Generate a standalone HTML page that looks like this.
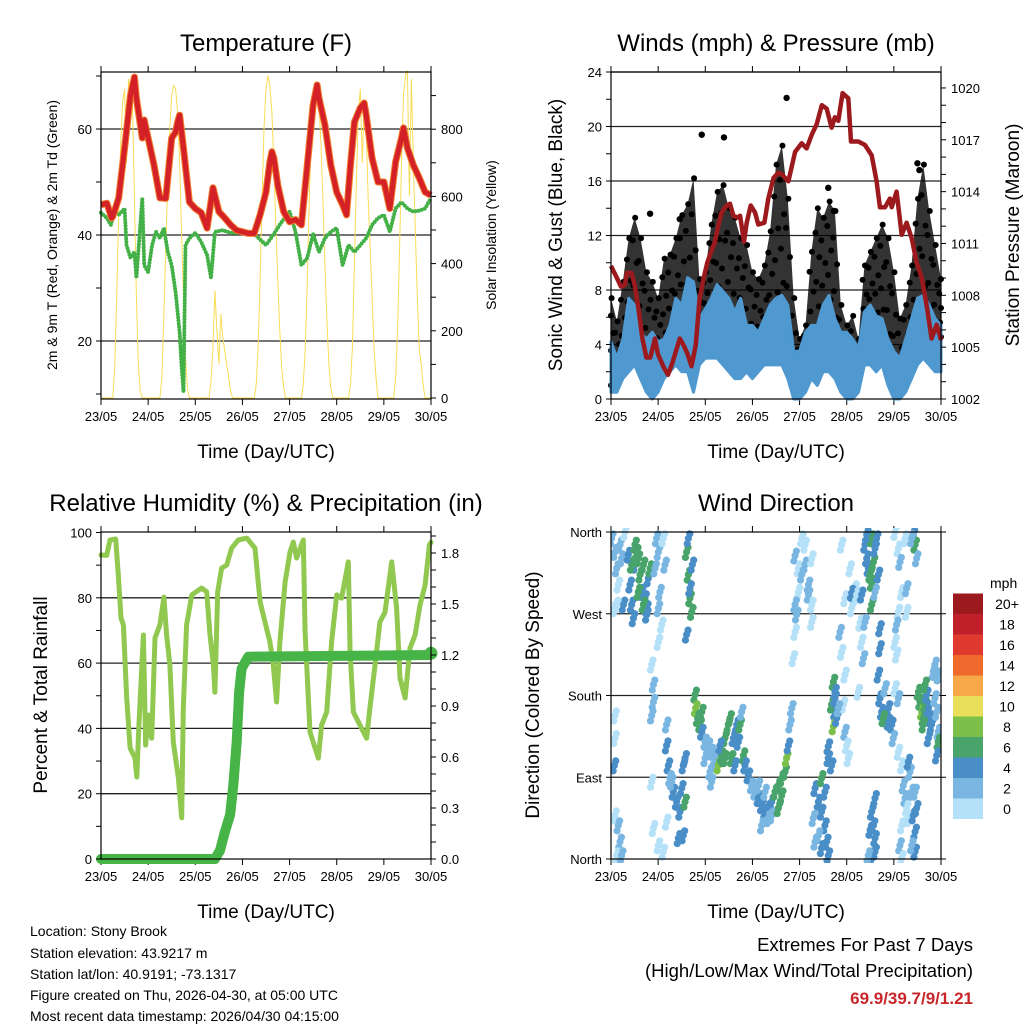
<!DOCTYPE html>
<html><head><meta charset="utf-8"><style>
html,body{margin:0;padding:0;background:#fff;}
svg{display:block;font-family:"Liberation Sans",Arial,sans-serif;}
</style></head><body>
<svg id="s" width="1024" height="1024" viewBox="0 0 1024 1024" xmlns="http://www.w3.org/2000/svg">
<defs><clipPath id="clipDir"><rect x="611" y="528" width="330" height="335"/></clipPath></defs>
<rect x="0" y="0" width="1024" height="1024" fill="#fff"/>
<g id="g1"></g>
<g id="g2"></g>
<g id="g3"></g>
<g id="g4"></g>
<g font-size="14" fill="#000">
<text x="30" y="936">Location: Stony Brook</text>
<text x="30" y="958">Station elevation: 43.9217 m</text>
<text x="30" y="979">Station lat/lon: 40.9191; -73.1317</text>
<text x="30" y="1000">Figure created on Thu, 2026-04-30, at 05:00 UTC</text>
<text x="30" y="1021">Most recent data timestamp: 2026/04/30 04:15:00</text>
</g>
<g text-anchor="end">
<text x="973" y="951" font-size="18.5">Extremes For Past 7 Days</text>
<text x="973" y="977" font-size="18.5">(High/Low/Max Wind/Total Precipitation)</text>
<text x="973" y="1004" font-size="17" font-weight="bold" fill="#c8262a">69.9/39.7/9/1.21</text>
</g>
</svg>
<script>
// ---------- data ----------
const dayLabels = ["23/05","24/05","25/05","26/05","27/05","28/05","29/05","30/05"];
const tempHours = [0,3,5.4,6,9,12,15,17,18,21,22,24,27,30,33,36,38,39,40,42,45,48,51,54,57,60,63,66,69,72,75,78,81,84,86,87,88,90,93,96,99,102,105,108,110,111,114,117,120,123,125,127,129,132,134,135,138,141,144,147,150,153,154,156,159,162,165,168];
const tempVals = [45.7,46,43.2,43.5,47,56.4,66.4,69.8,65.8,58.3,61.7,58.3,53.2,47,46.9,58.3,59.4,61.3,62.6,56.4,46.2,45,44.2,41.3,48.9,44.4,43.2,41.9,40.9,40.6,40.3,40.3,43.8,48.1,53.8,55.7,54.5,49.4,44.4,42.5,42.9,41.9,53.2,64.5,68.3,65.8,60.8,53.2,48.1,45.7,43.8,53.2,61.3,64,64.9,62.6,54.5,50,50,45,53.8,58.3,60.2,56.4,53.2,50.8,48.1,47.5];
const dewHours = [0,3,5,7,9,12,13,15,17,18,20,21,22,24,26,28,30,32,34,36,38,40,41,42,43,45,48,51,54,56,58,62,66,72,78,84,88,92,96,99,102,105,108,111,114,117,120,123,126,129,132,135,138,141,144,147,150,153,156,159,162,165,168];
const dewVals = [44.2,43.2,41.9,44.4,43.8,45,38.1,35.7,36.8,31.9,41.9,47,34.3,33,38.1,40.6,39.4,41.3,36.8,34.3,29.2,21.7,15.5,10.4,38.1,39.4,40.4,38.7,36.2,31.9,40.6,40.9,40.4,40.4,40.2,38.1,40.2,42.5,44.4,40.6,34.3,35.7,40.2,36.8,39.4,40.6,41.3,34.3,38.1,36.8,38.1,39.4,41.9,43.2,43.8,40.6,45,46.2,45,44.4,44.6,45,47];
const solarHours = [0,6,7,8,9,10,11,12,13,14,15,16,17,18,19,20,21, 30,31,32,33,34,35,36,37,38,39,40,41,42,43,44,45, 55,56,57,58,59,60,61,62,63,64,65,66,67, 78,79,80,81,82,83,84,85,86,87,88,89,90,91,92,93,94, 102,103,104,105,106,107,108,109,110,111,112,113,114,115,116,117,118, 126,127,128,129,130,131,132,133,134,135,136,137,138,139,140,141, 149,150,151,152,153,154,155,156,157,158,159,160,161,162,163,164,165,168];
const solarVals = [0,0,100,300,550,750,880,920,700,950,880,900,600,300,100,20,0, 0,60,250,450,650,800,900,930,920,850,700,500,300,120,30,0, 0,50,150,320,200,100,250,180,140,100,60,20,0, 0,40,150,350,600,800,920,960,930,850,700,520,350,200,90,30,0, 0,40,150,350,580,780,900,940,930,880,750,580,400,230,100,30,0, 0,40,150,400,650,850,920,700,880,800,600,450,300,150,60,0, 0,60,200,450,700,900,960,975,600,950,700,500,300,150,100,40,0,0];

const presHours = [0,3,5.1,7.1,8.1,10.5,12,13.9,16,18,20,22.4,23.9,27,29,31,32.9,35,37,39,41,43.1,45.1,47.2,49,50.9,52.9,55,56.3,58.9,60.6,62.3,64.3,65.7,67.7,69.1,71.1,73.3,75,78.1,80.1,82.8,85.2,86.9,90.3,93.7,97.1,99.6,102.2,104.7,107.3,109.8,112.3,114,115.7,117.9,120.8,122.2,125.9,129.3,132.7,135.2,136.9,139.5,142,142.9,145.4,148,150.5,153.1,155.6,158.2,160.7,163.2,165.8,168];
const presVals = [1009.7,1009.0,1008.5,1008.6,1009.3,1009.3,1008.6,1007.3,1005.5,1004.4,1004.4,1005.5,1004.6,1003.8,1003.4,1004.0,1004.7,1005.5,1005.1,1004.6,1003.9,1005.1,1007.8,1009.0,1009.9,1010.5,1011.1,1012.2,1012.8,1013.2,1013.3,1012.6,1012.5,1012.6,1011.1,1012.2,1013.2,1012.8,1012.1,1012.2,1013.6,1014.8,1015.1,1015.0,1014.6,1016.3,1016.8,1016.5,1017.3,1017.9,1019.0,1018.8,1017.7,1018.3,1018.1,1019.7,1019.4,1016.9,1016.9,1016.7,1016.1,1014.6,1013.1,1013.1,1013.6,1013.1,1014.0,1011.5,1012.2,1011.3,1009.9,1009.0,1007.4,1005.5,1006.3,1005.4];
const windHours = [0,3,6,9,12,15,18,21,24,27,30,33,36,39,42,45,48,51,54,57,60,63,66,69,72,75,78,81,84,87,90,93,96,99,102,105,108,111,114,117,120,123,126,129,132,135,138,141,144,147,150,153,156,159,162,165,168];
const windHi = [4.2,3.0,4.4,7.4,6.9,4.9,4.4,4.9,4.2,4.4,5.4,7.4,6.9,8.9,8.6,5.9,6.6,7.4,8.4,7.9,7.4,6.4,7.4,5.4,5.4,4.9,5.9,6.9,7.4,7.6,6.9,3.5,3.5,4.9,5.4,5.4,6.9,7.6,5.9,4.9,4.9,4.4,3.7,6.4,6.9,6.1,5.9,4.4,3.5,3.0,4.4,5.9,7.4,7.6,6.9,5.9,5.4];
const windLo = [0.5,0.5,1.5,2,2.5,1.5,0.5,0,0.5,1.5,2,2.5,2,2,0.5,2.5,3,3,3,2.5,2,1.5,1.5,2,1.5,2,2.5,2.5,2.5,2.5,1.5,0,0,0.5,1.5,1,2,2,1.5,0.5,0,0,0.5,2.5,2.5,2,2.5,1,0,0,0.5,1.5,2.5,3,2.5,2,2];
const gustHi = [7.4,5.7,8.6,11.8,13.3,11.8,9.3,8.6,7.4,10.3,10.6,11.8,13.5,14.3,16.2,8.8,9.3,12.8,15.2,15.7,14,13.3,11.8,11.3,9.3,8.8,9.8,12.3,17.2,18.6,14.7,7.4,4.4,5.4,10.8,14,13.3,14.5,13.8,6.9,5.4,6.1,4.4,9.8,10.8,11.8,12.8,11.8,9.3,5.9,6.9,9.8,14.7,17.2,13.8,11.3,8.8];
const gustLo = [1,1.5,2,4,5,3.5,2.5,2,2.5,3.5,4,5,5,4.5,3,4.5,5.5,6,6.5,5.5,5,4,4.5,3.5,3,3,3.5,4.5,5.5,6,4,1,0.5,1.5,3.5,5,5,5.5,4,1.5,0.5,0.5,1.5,4.5,5,5,5,3,1.5,0.5,1.5,3.5,5.5,6,5,4,3.5];
const gustExtraHours = [89.4,46.2,57.5,19.9,35,110.6,113.5,156,157];
const gustExtraVals = [22.1,19.4,19.2,13.6,13.2,15.5,13.8,17.3,16.8];

const rhHours = [0,2.9,4.6,7.5,8.8,10.2,11.4,13.1,14.8,17.3,18.2,19.3,21.6,22.7,24.1,25.8,27.5,30,32,33.4,35.1,36.8,39.4,41.1,41.9,43.6,46.2,51.2,53.8,55.5,57.2,58,59.4,61.4,64,66.5,69.9,74.2,78.4,81,83.5,86,87.7,89.4,91.1,93.7,96.2,97.9,99.6,103,103.9,106.4,110.6,112.3,114.9,117.4,120,122.5,125.9,126.8,128.5,131,135.2,136.9,139.5,142,144.6,148,150.5,152.2,154.8,157.3,159.9,162.4,165,167.2,168];
const rhVals = [93.1,93,97.7,98,87,73.8,71.7,49.3,34,30.9,25.1,41,68.6,34.9,44.1,37,67.7,71.7,80.2,68.6,59.4,35.8,24.8,12.6,46.2,71.7,80.9,83,81.8,68.6,59.4,51.1,81.8,89.1,90,95.2,97.7,98.3,95.2,78.7,72.6,66.5,59.4,48.1,66.5,84.8,94,97.1,92.2,97.7,69.5,38.9,30.9,41,45,66.5,80.9,79.9,91,63.4,45,42,37,46.2,59.4,72.6,75.6,91,76.9,55.4,49.3,64.6,68.6,77.8,83.9,96.2,97];
const precipHours = [0,58,60.6,63.1,65.7,67.4,69.1,70.3,71.6,75,167,168];
const precipVals = [0,0,0.05,0.16,0.26,0.44,0.69,0.98,1.12,1.19,1.2,1.21];

const dirHours = [
0.3,2,2.9,3.7,4.6,5.4,6.3,7.1,2.9,1.7,
2,3.7,4.6,2.9,5.4,1.7,2,2,
9.7,10.5,11.4,12.2,13.1,13.9,14.8,15.6,16.5,17.3,18.2,19,19.9,10.5,13.9,16.5,8.8,12.2,18.2,
23.2,24.1,24.9,25.8,26.6,27.5,24.1,24.1,22.4,
38.5,39.4,40.2,41.1,39.4,41.4,38.5,40.2,
20.7,21.6,21.6,20.7,
28.3,28.3,29.2,30,31.7,33.4,35.1,36,36.8,37.7,34.3,36.8,20.7,21.6,24.1,26.6,28.3,30.9,37.7,
42.8,43.1,44.1,45.3,46.2,47.9,49.6,51.2,52.9,47.9,46.2,
50.4,51.2,54.6,56.3,58,59.7,60.6,62.3,64,64.8,65.7,66.5,67.4,68.2,69.9,58,61.4,63.1,55.5,57.2,
71.6,73.3,75,76.7,78.4,80.1,81.8,83.5,85.2,86.9,88.6,89.4,90.3,91.1,92,78.4,81.8,85.2,75,76.7,80.1,86.9,
93.7,95.4,97.1,98.8,100.5,102.2,95.4,93.7,94.5,98.8,100.5,97.1,93.7,92.8,102.2,102.2,
103.9,105.6,107.2,108.9,109.8,110.6,105.6,107.2,103,103.9,108.9,107.2,110.6,112.3,110.6,
113.2,114,113.2,114,112.3,114,113.2,114.9,
116.6,117.4,119.1,118.3,119.1,120,120.8,122.5,123.4,124.2,125.9,126.8,127.6,128.5,129.3,119.1,117.4,121.7,122.5,125.1,125.9,115.7,
129.3,130.2,131,131.9,132.7,133.6,134.4,135.2,130.2,132.7,132.7,136.1,127.6,134.4,
132.7,133.6,134.4,132.7,134.4,131.9,134.4,131,
136.1,136.9,137.8,139.5,141.2,142.9,143.7,141.2,138.6,136.9,136.9,139.5,146.3,144.6,146.3,
146.3,147.1,148,146.3,145.4,144.6,145.4,149.7,150.5,150.5,144.6,
148,148.8,149.7,150.5,151.4,152.2,153.1,153.9,154.8,154.8,153.1,147.1,148,151.4,154.8,155.6,148,
153.9,154.8,155.6,153.1,
156.5,157.3,158.2,159,159.9,160.7,161.6,162.4,163.2,164.9,165.8,166.6,166.6,164.1,164.9,166.6,165.8,159.9,161.6,159];
const dirDegs = [
353,338,320,302,346,331,280,360,280,276,
48,37,19,4,4,103,133,158,
302,280,265,324,338,331,313,294,324,287,276,309,320,324,294,280,335,346,269,
353,338,294,258,353,324,239,276,320,
338,313,287,272,353,324,247,298,
214,192,173,158,
148,125,103,89,74,63,52,78,103,111,23,26,85,34,15,8,41,85,63,
181,166,155,148,140,129,125,118,111,111,162,
96,85,103,114,133,148,155,133,148,129,148,162,114,103,92,111,111,103,125,111,
81,74,67,59,52,56,63,74,81,89,96,111,125,148,166,74,48,56,81,37,45,70,
334,320,313,324,302,331,294,280,269,346,291,353,250,221,280,261,
78,63,52,37,19,4,26,12,45,19,74,89,111,103,124,
195,184,173,162,170,177,146,155,
250,228,203,170,140,125,111,276,294,298,291,260,239,221,261,287,346,320,293,291,184,166,
346,331,320,313,353,327,342,353,357,304,280,313,291,294,
52,37,23,4,8,32,67,4,
203,177,162,158,151,148,133,166,155,232,254,188,118,188,177,
342,327,294,272,258,239,225,353,298,272,360,
103,81,67,56,45,96,74,48,30,8,15,15,37,107,74,56,1,
357,346,331,353,
184,173,162,155,170,181,166,155,148,177,162,140,202,206,214,129,114,192,133,148];
const dirSpds = [
2,2,2,1,2,3,4,1,1,1,
1,2,2,1,2,4,1,1,
4,4,4,5,7,6,7,5,6,5,4,5,7,6,7,7,4,7,4,
2,3,2,1,1,2,1,3,2,
6,7,6,7,4,5,4,5,
1,2,2,2,
3,4,4,3,4,4,5,4,4,4,4,4,1,1,1,1,1,3,7,
6,8,6,7,4,3,3,3,2,2,6,
3,2,8,7,6,6,7,5,5,5,6,3,7,5,4,7,6,5,4,7,
3,3,4,4,4,4,5,6,7,6,7,8,4,2,2,2,3,6,2,2,3,7,
2,1,2,2,2,1,1,3,3,1,2,1,1,1,1,1,
4,4,4,4,4,4,3,4,2,2,5,7,4,4,4,
6,4,5,4,7,4,8,4,
2,1,1,1,2,1,1,1,2,1,1,1,1,2,2,1,1,1,4,1,1,3,
4,4,4,6,6,6,4,4,4,7,6,4,4,3,
4,4,4,4,4,4,4,2,
4,4,4,5,4,4,2,4,6,4,4,2,1,1,2,
1,2,1,1,2,1,1,1,2,1,1,
1,2,2,1,1,3,2,4,4,4,2,2,1,4,3,4,1,
4,7,3,2,
6,7,8,6,6,4,4,4,4,3,3,2,2,2,2,6,4,6,4,7];
const speedColors = ["#b4e0f8","#7ab6e2","#4a8ec8","#48a46a","#7cc04a","#e8e05a","#f8a848","#f06a2d","#e03a2e","#c0202a","#9c1a1e"];
const speedLabels = ["0","2","4","6","8","10","12","14","16","18","20+"];

// ---------- helpers ----------
const NS = "http://www.w3.org/2000/svg";
function mk(parent, tag, attrs, txt){
  const e = document.createElementNS(NS, tag);
  for (const k in attrs) e.setAttribute(k, attrs[k]);
  if (txt !== undefined) e.textContent = txt;
  parent.appendChild(e);
  return e;
}
function pathFrom(xs, ys){ return xs.map((x,i)=>(i?"L":"M")+x.toFixed(1)+" "+ys[i].toFixed(1)).join(""); }

function frame(g, X0, Y0, X1, Y1, title, xlab){
  const t = mk(g,"text",{x:(X0+X1)/2,y:Y0-21,"font-size":24,"text-anchor":"middle"},title);
  
  
  const xl = mk(g,"text",{x:(X0+X1)/2,y:Y1+59,"font-size":19,"text-anchor":"middle"},xlab);
  
  
  for (let d=0; d<=7; d++){
    const x = X0 + d*(X1-X0)/7;
    const tk = mk(g,"line",{x1:x,x2:x,y1:Y1,y2:Y1+6,stroke:"#000","stroke-width":1});
    
    
    mk(g,"line",{x1:x,x2:x,y1:Y0,y2:Y0-6,stroke:"#000","stroke-width":1});
    const lb = mk(g,"text",{x:x,y:Y1+22,"font-size":13,"text-anchor":"middle"},dayLabels[d]);
    
    
  }
}
function border(g,X0,Y0,X1,Y1){
  const b = mk(g,"rect",{x:X0,y:Y0,width:X1-X0,height:Y1-Y0,fill:"none",stroke:"#000","stroke-width":1.2});
  
  
}
function yTicks(g, side, X, vals, yf, labels, len){
  vals.forEach((v,i)=>{
    const y = yf(v);
    const dx = side==="left" ? -len : len;
    mk(g,"line",{x1:X,x2:X+dx,y1:y,y2:y,stroke:"#000","stroke-width":1});
    if (labels && labels[i] !== null){
      const t = mk(g,"text",{x: side==="left"? X-9 : X+10, y:y+5,"font-size":13,"text-anchor": side==="left"?"end":"start"}, labels[i]);
      
      
    }
  });
}
function vlabel(g, x, y, txt, size, name){
  const t = mk(g,"text",{x:x,y:y,"font-size":size,"text-anchor":"middle",transform:`rotate(-90 ${x} ${y})`},txt);
  
  
}
function grid(g, X0, X1, ys){
  ys.forEach(y=>{
    const l = mk(g,"line",{x1:X0,x2:X1,y1:y,y2:y,stroke:"#222","stroke-width":1.3});
    
    
  });
}

// ---------- Panel 1: temperature ----------
(function(){
  const g = document.getElementById("g1");
  const X0=101,X1=431,Y0=72,Y1=399;
  const xs = h => X0 + h*(X1-X0)/168;
  const yT = t => 129 + (60-t)*5.3;
  const yS = w => 398 - w*0.336;
  frame(g,X0,Y0,X1,Y1,"Temperature (F)","Time (Day/UTC)");
  grid(g,X0,X1,[yT(20),yT(40),yT(60)]);
  const sol = mk(g,"path",{d:pathFrom(solarHours.map(xs),solarVals.map(yS)),fill:"none",stroke:"#f9dc56","stroke-width":1});
  
  
  const dew = mk(g,"path",{d:pathFrom(dewHours.map(xs),dewVals.map(yT)),fill:"none",stroke:"#44b048","stroke-width":4,"stroke-dasharray":"0 3.2","stroke-linecap":"round","stroke-linejoin":"round"});
  
  
  const t9 = mk(g,"path",{d:pathFrom(tempHours.map(xs),tempVals.map(yT)),fill:"none",stroke:"#f07a2a","stroke-width":7,"stroke-linejoin":"round"});
  
  
  const t2 = mk(g,"path",{d:pathFrom(tempHours.map(xs),tempVals.map(yT)),fill:"none",stroke:"#d42128","stroke-width":5,"stroke-linejoin":"round"});
  
  
  border(g,X0,Y0,X1,Y1);
  const lv=[],ll=[]; for(let v=10;v<=70;v+=10){lv.push(v); ll.push(v%20===0? String(v):null);}
  yTicks(g,"left",X0,lv,yT,ll,5);
  const rv=[],rl=[]; for(let v=0;v<=900;v+=100){rv.push(v); rl.push(v%200===0? String(v):null);}
  yTicks(g,"right",X1,rv,yS,rl,5);
  vlabel(g,57,235,"2m & 9m T (Red, Orange) & 2m Td (Green)",14,"y-axis-title-left");
  vlabel(g,496,235,"Solar Insolation (Yellow)",14,"y-axis-title-right");
})();

// ---------- Panel 2: winds ----------
(function(){
  const g = document.getElementById("g2");
  const X0=611,X1=941,Y0=72,Y1=399;
  const xs = h => X0 + h*(X1-X0)/168;
  const yW = v => 399 - v*13.625;
  const yP = p => 399 - (p-1002)*17.28;
  frame(g,X0,Y0,X1,Y1,"Winds (mph) & Pressure (mb)","Time (Day/UTC)");
  grid(g,X0,X1,[4,8,12,16,20,24].map(yW));
  const top=windHours.map(xs), hi=gustHi.map(yW), lo=gustLo.map(yW);
  const band = mk(g,"path",{d:pathFrom(top.concat(top.slice().reverse()),hi.concat(lo.slice().reverse()))+"Z",fill:"#000","fill-opacity":0.8,stroke:"none"});
  
  
  const fr = [0,0.2,0.4,0.6,0.8,1];
  const jit = [-1.2,0.8,-0.5,1.1,-0.9,0.3];
  windHours.forEach((h,i)=>{
    fr.forEach((f,k)=>{
      const v = gustLo[i] + f*(gustHi[i]-gustLo[i]);
      const c = mk(g,"circle",{cx:xs(Math.min(168,Math.max(0,h+jit[k]))),cy:yW(v),r:3,fill:"#000"});
      
      
    });
  });
  gustExtraHours.forEach((h,i)=>{
    const c = mk(g,"circle",{cx:xs(h),cy:yW(gustExtraVals[i]),r:3.2,fill:"#000"});
    
    
  });
  const wb = mk(g,"path",{d:pathFrom(top.concat(top.slice().reverse()),windHi.map(yW).concat(windLo.map(yW).reverse()))+"Z",fill:"#4f98d0",stroke:"#4f98d0","stroke-width":3,"stroke-linejoin":"round"});
  
  
  const pl = mk(g,"path",{d:pathFrom(presHours.map(xs),presVals.map(yP)),fill:"none",stroke:"#9c1a1e","stroke-width":4.5,"stroke-linejoin":"round"});
  
  
  border(g,X0,Y0,X1,Y1);
  const lv=[],ll=[]; for(let v=0;v<=24;v+=2){lv.push(v); ll.push(v%4===0?String(v):null);}
  yTicks(g,"left",X0,lv,yW,ll,5);
  const rv=[],rl=[]; for(let v=1002;v<=1020;v++){rv.push(v); rl.push((v-1002)%3===0?String(v):null);}
  yTicks(g,"right",X1,rv,yP,rl,5);
  vlabel(g,562,235,"Sonic Wind & Gust (Blue, Black)",19,"y-axis-title-left");
  vlabel(g,1019,235,"Station Pressure (Maroon)",19,"y-axis-title-right");
})();

// ---------- Panel 3: humidity ----------
(function(){
  const g = document.getElementById("g3");
  const X0=101,X1=431,Y0=532,Y1=859;
  const xs = h => X0 + h*(X1-X0)/168;
  const yR = r => 859 - r*3.265;
  const yPr = p => 859 - p*170;
  frame(g,X0,Y0,X1,Y1,"Relative Humidity (%) & Precipitation (in)","Time (Day/UTC)");
  grid(g,X0,X1,[20,40,60,80].map(yR));
  const rh = mk(g,"path",{d:pathFrom(rhHours.map(xs),rhVals.map(yR)),fill:"none",stroke:"#90c850","stroke-width":5,"stroke-linejoin":"round","stroke-linecap":"round"});
  
  
  const pr = mk(g,"path",{d:pathFrom(precipHours.map(xs),precipVals.map(yPr)),fill:"none",stroke:"#46b446","stroke-width":10,"stroke-linejoin":"round","stroke-linecap":"round"});
  
  
  const n = precipHours.length-1;
  const e = mk(g,"circle",{cx:xs(precipHours[n]),cy:yPr(precipVals[n]),r:6.5,fill:"#46b446"});
  
  
  border(g,X0,Y0,X1,Y1);
  const lv=[],ll=[]; for(let v=0;v<=100;v+=10){lv.push(v); ll.push(v%20===0?String(v):null);}
  yTicks(g,"left",X0,lv,yR,ll,5);
  const rv=[],rl=[]; for(let k=0;k<=19;k++){const v=k/10; rv.push(v); rl.push(k%3===0? v.toFixed(1):null);}
  yTicks(g,"right",X1,rv,yPr,rl,5);
  vlabel(g,47,695,"Percent & Total Rainfall",19,"y-axis-title-left");
})();

// ---------- Panel 4: wind direction ----------
(function(){
  const g = document.getElementById("g4");
  const X0=611,X1=941,Y0=532,Y1=859;
  const xs = h => X0 + h*(X1-X0)/168;
  const yD = d => 859 - d*327/360;
  frame(g,X0,Y0,X1,Y1,"Wind Direction","Time (Day/UTC)");
  grid(g,X0,X1,[90,180,270].map(yD));
  const pts = mk(g,"g",{"clip-path":"url(#clipDir)"});
  
  
  dirHours.forEach((h,i)=>{
    const bin = Math.min(10, Math.max(0, Math.floor(dirSpds[i]/2)));
    [[0,0],[0.7,5],[-0.6,-6]].forEach(o=>{
      const c = mk(pts,"circle",{cx:xs(h+o[0]),cy:yD(dirDegs[i]+o[1]),r:3.6,fill:speedColors[bin]});
      
      
    });
  });
  border(g,X0,Y0,X1,Y1);
  const names=["North","East","South","West","North"];
  yTicks(g,"left",X0,[0,90,180,270,360],yD,names,5);
  yTicks(g,"right",X1,[0,90,180,270,360],yD,null,5);
  vlabel(g,539,695,"Direction (Colored By Speed)",19,"y-axis-title-left");
  const cb = mk(g,"g",{});
  
  
  const u = mk(cb,"text",{x:990,y:588,"font-size":14},"mph");
  
  
  speedColors.forEach((col,i)=>{
    const y = 819 - (i+1)*20.5;
    const r = mk(cb,"rect",{x:953,y:y,width:30,height:20.5,fill:col});
    
    
    const t = mk(cb,"text",{x:1007,y:y+15.5,"font-size":14,"text-anchor":"middle"},speedLabels[i]);
    
    
  });
})();
</script>
</body></html>
